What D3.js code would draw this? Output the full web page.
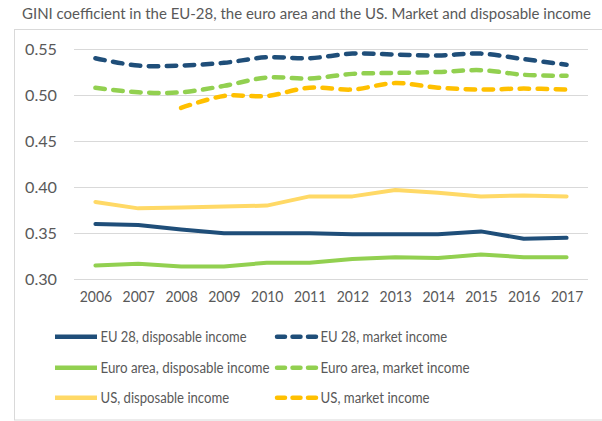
<!DOCTYPE html>
<html>
<head>
<meta charset="utf-8">
<script src="https://cdn.jsdelivr.net/npm/d3@7"></script>
<style>
  html, body { margin: 0; padding: 0; background: #fff; }
  svg { display: block; }
  text { font-family: Lato, "Open Sans", sans-serif; fill: #595959; }
</style>
</head>
<body>
<script>
// Survey years
const years = ["2006","2007","2008","2009","2010","2011","2012","2013","2014","2015","2016","2017"];

// GINI coefficient, disposable income
const eu28Disposable = [0.360, 0.359, 0.354, 0.350, 0.350, 0.350, 0.349, 0.349, 0.349, 0.352, 0.344, 0.345];
const euroDisposable = [0.315, 0.317, 0.314, 0.314, 0.318, 0.318, 0.322, 0.324, 0.323, 0.327, 0.324, 0.324];
const usDisposable   = [0.384, 0.377, 0.378, 0.379, 0.380, 0.390, 0.390, 0.397, 0.394, 0.390, 0.391, 0.390];

// GINI coefficient, market income (US series starts in 2008)
const eu28Market = [0.540, 0.532, 0.532, 0.535, 0.541, 0.540, 0.545, 0.544, 0.543, 0.545, 0.539, 0.533];
const euroMarket = [0.508, 0.503, 0.503, 0.510, 0.519, 0.518, 0.523, 0.524, 0.525, 0.527, 0.522, 0.521];
const usMarket   = [null, null, 0.486, 0.499, 0.499, 0.508, 0.506, 0.513, 0.508, 0.506, 0.507, 0.506];

const yTicks = [0.30, 0.35, 0.40, 0.45, 0.50, 0.55];

const seriesNames = [
  "EU 28, disposable income", "EU 28, market income",
  "Euro area, disposable income", "Euro area, market income",
  "US, disposable income", "US, market income"
];

const W = 602, H = 421;
const BLUE = "#1F4E79", GREEN = "#92D050", LIGHTYELLOW = "#FFD966", GOLD = "#FFC000";

const series = [
  { name: seriesNames[0], values: eu28Disposable, color: BLUE, dashed: false },
  { name: seriesNames[1], values: eu28Market, color: BLUE, dashed: true },
  { name: seriesNames[2], values: euroDisposable, color: GREEN, dashed: false },
  { name: seriesNames[3], values: euroMarket, color: GREEN, dashed: true },
  { name: seriesNames[4], values: usDisposable, color: LIGHTYELLOW, dashed: false },
  { name: seriesNames[5], values: usMarket, color: GOLD, dashed: true }
];

const svg = d3.select("body").append("svg").attr("width", W).attr("height", H);

// Condense a text element horizontally by a factor (narrow typeface look)
function condense(sel, factor) {
  sel.each(function () {
    const w = this.getComputedTextLength();
    d3.select(this).attr("textLength", w * factor).attr("lengthAdjust", "spacingAndGlyphs");
  });
}

// Title
svg.append("text")
  .attr("x", 22).attr("y", 19)
  .style("font-size", "14.5px")
  .attr("fill", "#636363")
  .attr("textLength", 569).attr("lengthAdjust", "spacingAndGlyphs")
  .text("GINI coefficient in the EU-28, the euro area and the US. Market and disposable income");

// Chart frame
svg.append("rect")
  .attr("x", 14.5).attr("y", 29.5)
  .attr("width", W).attr("height", 390.5)
  .attr("fill", "none").attr("stroke", "#d9d9d9").attr("stroke-width", 1);

// Scales
const x = d3.scalePoint().domain(years).range([74, 588]).padding(0.5);
const y = d3.scaleLinear().domain([0.30, 0.55]).range([279.3, 49]);

// Gridlines
svg.append("g").selectAll("line").data(yTicks).join("line")
  .attr("x1", 74).attr("x2", 588)
  .attr("y1", d => Math.round(y(d)) + 0.5).attr("y2", d => Math.round(y(d)) + 0.5)
  .attr("stroke", "#d9d9d9").attr("stroke-width", 1);

// Y axis labels
const yAxis = svg.append("g").attr("transform", "translate(57,0)")
  .call(d3.axisLeft(y).tickValues(yTicks).tickFormat(d3.format(".2f")).tickSize(0).tickPadding(0));
yAxis.select(".domain").remove();
yAxis.selectAll("text").style("font-size", "15px").attr("fill", "#595959").attr("dy", "0.35em")
  .style("font-family", "Lato, 'Open Sans', sans-serif");
condense(yAxis.selectAll("text"), 1.08);

// X axis labels
const xAxis = svg.append("g").attr("transform", "translate(0,291)")
  .call(d3.axisBottom(x).tickSize(0).tickPadding(0));
xAxis.select(".domain").remove();
xAxis.selectAll("text").style("font-size", "15px").attr("fill", "#595959").attr("dy", "0.72em")
  .style("font-family", "Lato, 'Open Sans', sans-serif");
condense(xAxis.selectAll("text"), 0.93);

// Lines
const solidLine = d3.line()
  .defined(d => d.v != null)
  .x(d => x(d.year)).y(d => y(d.v))
  .curve(d3.curveLinear);
const dashedLine = d3.line()
  .defined(d => d.v != null)
  .x(d => x(d.year)).y(d => y(d.v))
  .curve(d3.curveCatmullRom.alpha(0.5));

const lines = svg.append("g");
series.forEach(s => {
  const pts = years.map((yr, i) => ({ year: yr, v: s.values[i] }));
  lines.append("path")
    .datum(pts)
    .attr("d", s.dashed ? dashedLine : solidLine)
    .attr("fill", "none")
    .attr("stroke", s.color)
    .attr("stroke-width", s.dashed ? 4.5 : 4)
    .attr("stroke-linecap", "round")
    .attr("stroke-linejoin", "round")
    .attr("stroke-dasharray", s.dashed ? "9.5,8.5" : null);
});

// Legend: two columns, three rows
const legendRows = [336.7, 367.7, 397.7];
const legendCols = [{ x1: 55, x2: 97, tx: 100.5 }, { x1: 277, x2: 316, tx: 320.5 }];
const legendWidths = [146, 126.7, 169, 149, 128.6, 109];
const legend = svg.append("g");
series.forEach((s, i) => {
  const col = legendCols[i % 2];
  const ry = legendRows[Math.floor(i / 2)];
  legend.append("line")
    .attr("x1", col.x1).attr("x2", col.x2)
    .attr("y1", ry).attr("y2", ry)
    .attr("stroke", s.color)
    .attr("stroke-width", 4.5)
    .attr("stroke-linecap", s.dashed ? "round" : "butt")
    .attr("stroke-dasharray", s.dashed ? "8,7.5" : null);
  legend.append("text")
    .attr("x", col.tx).attr("y", ry).attr("dy", "0.36em")
    .style("font-size", "15.5px")
    .attr("textLength", legendWidths[i]).attr("lengthAdjust", "spacingAndGlyphs")
    .text(s.name);
});
</script>
</body>
</html>
